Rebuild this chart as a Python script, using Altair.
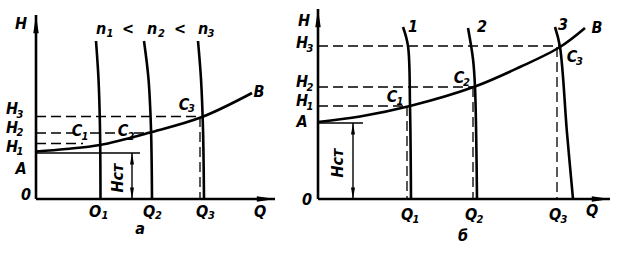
import altair as alt
import pandas as pd

# ---------------- panel а ----------------
a_axis_h_top = 18.4
a_axis_q_end = 23.9
a_sys_q = [0, 3.0, 6.4, 11.4, 16.6, 21.6]
a_sys_h = [4.75, 5.0, 5.4, 6.65, 8.2, 10.6]
a_n1_q = [6.0, 6.25, 6.4, 6.45]
a_n2_q = [10.8, 11.25, 11.5, 11.6]
a_n3_q = [16.2, 16.5, 16.7, 16.8]
a_n_h = [15.8, 12.0, 7.0, 0]
a_dash_q1 = [0, 0, 5.4, 9.8, 0, 16.4]
a_dash_q2 = [16.6, 3.7, 8.0, 11.4, 4.7, 16.4]
a_dash_h1 = [8.25, 6.6, 6.6, 6.6, 5.55, 8.2]
a_dash_h2 = [8.25, 6.6, 6.6, 6.6, 5.55, 0]
a_hst_level = 4.6
a_hst_len = 10.4
a_hst_arrow_q = 9.6
a_main = ["H", "H", "H", "H", "A", "0", "B", "C", "C", "C",
          "O", "Q", "Q", "Q", "а", "n", "<", "n", "<", "n"]
a_main_q = [-1.5, -2.4, -2.4, -2.4, -1.5, -1.0, 22.3, 4.1, 8.7, 14.8,
            5.9, 11.3, 16.6, 22.4, 10.4, 6.5, 9.2, 11.6, 14.4, 16.7]
a_main_h = [17.5, 9.0, 7.15, 5.2, 3.0, 0.4, 10.7, 6.8, 6.8, 9.4,
            -1.3, -1.3, -1.3, -1.3, -3.0, 17.0, 17.0, 17.0, 17.0, 17.0]
a_sub = ["3", "2", "1", "1", "2", "3", "1", "2", "3", "1", "2", "3"]
a_sub_q = [-1.95, -1.95, -1.95, 4.55, 9.15, 15.2, 6.55, 11.9, 17.2, 7.05, 12.2, 17.15]
a_sub_h = [8.45, 6.65, 4.7, 6.25, 6.25, 9.05, -1.7, -1.7, -1.7, 16.5, 16.5, 16.5]
a_hst_label_q = 8.2
a_hst_label_h = 2.1

# ---------------- panel б ----------------
b_axis_h_top = 19.0
b_axis_q_end = 29.2
b_sys_q = [0, 4.2, 9.2, 15.7, 20.2, 24.2, 26.7]
b_sys_h = [7.7, 8.25, 9.3, 11.25, 13.2, 15.2, 17.1]
b_p1_q = [8.5, 9.0, 9.2, 9.3]
b_p1_h = [17.2, 15.3, 9.3, 0]
b_p2_q = [15.0, 15.5, 15.7, 15.9]
b_p2_h = [17.1, 14.0, 11.2, 0]
b_p3_q = [23.7, 24.2, 24.9, 25.5]
b_p3_h = [17.2, 15.2, 6.6, 0]
b_dash_q1 = [0, 0, 0, 8.9, 15.5, 23.9]
b_dash_q2 = [24.2, 15.7, 9.2, 8.9, 15.5, 23.9]
b_dash_h1 = [15.3, 11.2, 9.3, 9.3, 11.2, 15.2]
b_dash_h2 = [15.3, 11.2, 9.3, 0, 0, 0]
b_hst_level = 7.6
b_hst_len = 4.5
b_hst_arrow_q = 3.5
b_main = ["H", "H", "H", "H", "A", "0", "1", "2", "3", "B",
          "C", "C", "C", "Q", "Q", "Q", "Q", "б"]
b_main_q = [-1.4, -1.6, -1.6, -1.6, -1.6, -1.1, 9.5, 16.4, 24.5, 27.9,
            7.4, 14.1, 25.4, 8.9, 15.3, 23.7, 27.4, 14.5]
b_main_h = [17.8, 15.6, 11.7, 9.8, 7.7, -0.1, 17.2, 17.2, 17.4, 17.1,
            10.2, 12.1, 14.2, -1.6, -1.6, -1.6, -1.2, -3.7]
b_sub = ["3", "2", "1", "1", "2", "3", "1", "2", "3"]
b_sub_q = [-1.15, -1.15, -1.15, 7.85, 14.5, 25.8, 9.45, 15.85, 24.25]
b_sub_h = [15.0, 11.1, 9.2, 9.75, 11.6, 13.75, -2.1, -2.1, -2.1]
b_hst_label_q = 2.0
b_hst_label_h = 3.6

H_DOMAIN = [-5.5, 19.9]
ARROW = "M0,0L0.3,2L-0.3,2Z"
FONT = "Liberation Sans Narrow, DejaVu Sans Condensed, Roboto Condensed, Liberation Sans"


def build_panel(dom_q, width, curves, dash, axis_h_top, axis_q_end,
                hst_level, hst_len, hst_q, main, mq, mh, sub, sq, sh,
                hst_lq, hst_lh):
    xs = alt.Scale(domain=dom_q, nice=False, zero=False)
    ys = alt.Scale(domain=H_DOMAIN, nice=False, zero=False)
    X = alt.X("q:Q", scale=xs, axis=None)
    Y = alt.Y("h:Q", scale=ys, axis=None)

    rows = []
    for cid, (qs, hs) in enumerate(curves):
        for k, (q, h) in enumerate(zip(qs, hs)):
            rows.append({"id": cid, "ord": k, "q": q, "h": h})
    curve_layer = alt.Chart(pd.DataFrame(rows)).mark_line(
        interpolate="catmull-rom", strokeWidth=2.6, color="black"
    ).encode(x=X, y=Y, detail="id:N", order="ord:Q")

    dash_df = pd.DataFrame({"q": dash[0], "q2": dash[1], "h": dash[2], "h2": dash[3]})
    dash_layer = alt.Chart(dash_df).mark_rule(
        strokeWidth=1.3, color="black", strokeDash=[10, 5]
    ).encode(x=X, x2="q2:Q", y=Y, y2="h2:Q")

    axes_df = pd.DataFrame({"q": [0, 0], "q2": [0, axis_q_end],
                            "h": [0, 0], "h2": [axis_h_top, 0]})
    axes_layer = alt.Chart(axes_df).mark_rule(
        strokeWidth=2.6, color="black"
    ).encode(x=X, x2="q2:Q", y=Y, y2="h2:Q")

    thin_df = pd.DataFrame({"q": [0, hst_q], "q2": [hst_len, hst_q],
                            "h": [hst_level, hst_level], "h2": [hst_level, 0]})
    thin_layer = alt.Chart(thin_df).mark_rule(
        strokeWidth=1.4, color="black"
    ).encode(x=X, x2="q2:Q", y=Y, y2="h2:Q")

    big_df = pd.DataFrame({"q": [0, axis_q_end], "h": [axis_h_top, 0], "ang": [0, 90]})
    big_layer = alt.Chart(big_df).mark_point(
        shape=ARROW, size=330, filled=True, color="black", opacity=1, strokeWidth=0
    ).encode(x=X, y=Y, angle=alt.Angle("ang:Q", scale=None))

    small_df = pd.DataFrame({"q": [hst_q, hst_q], "h": [hst_level, 0], "ang": [0, 180]})
    small_layer = alt.Chart(small_df).mark_point(
        shape="M0,0L0.35,2L-0.35,2Z", size=130, filled=True, color="black",
        opacity=1, strokeWidth=0
    ).encode(x=X, y=Y, angle=alt.Angle("ang:Q", scale=None))

    main_layer = alt.Chart(pd.DataFrame({"t": main, "q": mq, "h": mh})).mark_text(
        font=FONT, fontStyle="italic", fontWeight="bold", fontSize=16,
        color="black", align="center", baseline="middle"
    ).encode(x=X, y=Y, text="t:N")

    sub_layer = alt.Chart(pd.DataFrame({"t": sub, "q": sq, "h": sh})).mark_text(
        font=FONT, fontStyle="italic", fontWeight="bold", fontSize=11,
        color="black", align="left", baseline="middle"
    ).encode(x=X, y=Y, text="t:N")

    hst_df = pd.DataFrame({"t": ["Hст"], "q": [hst_lq], "h": [hst_lh]})
    hst_layer = alt.Chart(hst_df).mark_text(
        font=FONT, fontStyle="italic", fontWeight="bold", fontSize=16,
        color="black", align="center", baseline="middle", angle=270
    ).encode(x=X, y=Y, text="t:N")

    return alt.layer(dash_layer, thin_layer, axes_layer, curve_layer,
                     big_layer, small_layer, main_layer, sub_layer, hst_layer
                     ).properties(width=width, height=254)


panel_a = build_panel(
    [-3.6, 25.4], 290,
    [(a_sys_q, a_sys_h), (a_n1_q, a_n_h), (a_n2_q, a_n_h), (a_n3_q, a_n_h)],
    (a_dash_q1, a_dash_q2, a_dash_h1, a_dash_h2),
    a_axis_h_top, a_axis_q_end, a_hst_level, a_hst_len, a_hst_arrow_q,
    a_main, a_main_q, a_main_h, a_sub, a_sub_q, a_sub_h,
    a_hst_label_q, a_hst_label_h)

panel_b = build_panel(
    [-2.8, 30.1], 329,
    [(b_sys_q, b_sys_h), (b_p1_q, b_p1_h), (b_p2_q, b_p2_h), (b_p3_q, b_p3_h)],
    (b_dash_q1, b_dash_q2, b_dash_h1, b_dash_h2),
    b_axis_h_top, b_axis_q_end, b_hst_level, b_hst_len, b_hst_arrow_q,
    b_main, b_main_q, b_main_h, b_sub, b_sub_q, b_sub_h,
    b_hst_label_q, b_hst_label_h)

chart = alt.hconcat(panel_a, panel_b, spacing=0).properties(
    padding=0, background="white"
).configure_view(stroke=None)

chart.save("out.html", embed_options={"renderer": "svg", "actions": False})
